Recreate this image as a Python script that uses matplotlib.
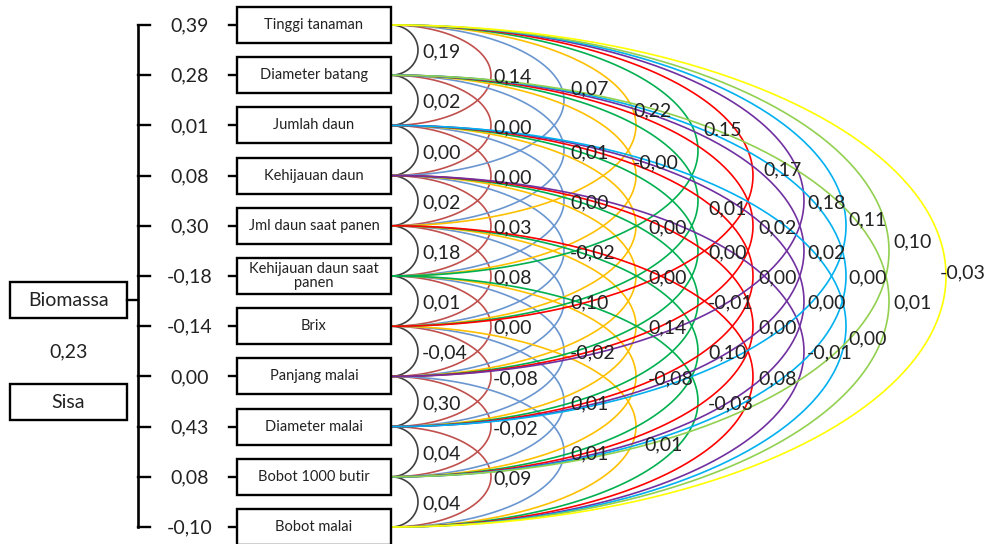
import numpy as np
import matplotlib.pyplot as plt
from matplotlib.patches import Rectangle

plt.rcParams['font.family'] = ['Lato', 'DejaVu Sans']

# Variables (top to bottom) and their direct effects on Biomassa
variables = ["Tinggi tanaman", "Diameter batang", "Jumlah daun", "Kehijauan daun",
             "Jml daun saat panen", "Kehijauan daun saat\npanen", "Brix", "Panjang malai",
             "Diameter malai", "Bobot 1000 butir", "Bobot malai"]
direct_effects = ["0,39", "0,28", "0,01", "0,08", "0,30", "-0,18", "-0,14", "0,00",
                  "0,43", "0,08", "-0,10"]
dependent = "Biomassa"
residual_name = "Sisa"
residual_value = "0,23"

# Correlations between variables, grouped by distance between rows (1..10)
corr_span1 = ["0,19", "0,02", "0,00", "0,02", "0,18", "0,01", "-0,04", "0,30", "0,04", "0,04"]
corr_span2 = ["0,14", "0,00", "0,00", "0,03", "0,08", "0,00", "-0,08", "-0,02", "0,09"]
corr_span3 = ["0,07", "0,01", "0,00", "-0,02", "0,10", "-0,02", "0,01", "0,01"]
corr_span4 = ["0,22", "-0,00", "0,00", "0,00", "0,14", "-0,08", "0,01"]
corr_span5 = ["0.15", "0,01", "0,00", "-0,01", "0,10", "-0,03"]
corr_span6 = ["0,17", "0,02", "0,00", "0,00", "0,08"]
corr_span7 = ["0,18", "0,02", "0,00", "-0,01"]
corr_span8 = ["0,11", "0,00", "0,00"]
corr_span9 = ["0,10", "0,01"]
corr_span10 = ["-0,03"]
corr_spans = [corr_span1, corr_span2, corr_span3, corr_span4, corr_span5,
              corr_span6, corr_span7, corr_span8, corr_span9, corr_span10]

# styling / layout
span_colors = ["#404040", "#C0504D", "#6A96D0", "#FFC000", "#00B050",
               "#FF0000", "#7030A0", "#00B0F0", "#92D050", "#FFFF00"]
span_reach = [27, 100, 173, 245, 307, 362, 413, 455, 498, 555]
label_dx = [4, 2, 6, 12, 10, 5, 3, 2, 4, -6]
label_nudge = {(3, 0): (0, -13), (4, 0): (-15, -17), (4, 1): (-15, -15), (4, 6): (-4, 16),
               (5, 0): (-5, -22), (5, 1): (0, 6), (6, 0): (5, -8), (8, 0): (0, -8),
               (8, 2): (0, 11), (9, 0): (0, -11), (10, 0): (0, -5)}
text_color = '#222222'

row0, row_step = 25, 50.2
box_l, box_r, box_h = 237, 391, 36

fig = plt.figure(figsize=(9.87, 5.44), dpi=100)
ax = fig.add_axes([0, 0, 1, 1])
ax.set_xlim(0, 987)
ax.set_ylim(544, 0)
ax.axis('off')

rows = row0 + row_step * np.arange(len(variables))

# arcs between the variable boxes
t = np.linspace(-np.pi / 2, np.pi / 2, 200)
for k, labels in enumerate(corr_spans):
    span = k + 1
    a = span_reach[k]
    for i, txt in enumerate(labels):
        y1, y2 = rows[i], rows[i + span]
        yc, b = (y1 + y2) / 2, (y2 - y1) / 2
        ax.plot(box_r + a * np.cos(t), yc + b * np.sin(t), color=span_colors[k],
                lw=1.2, zorder=2 + k * 0.1)
        dx, dy = label_nudge.get((span, i), (0, 0))
        ax.text(box_r + a + label_dx[k] + dx, yc + 2 + dy, txt, ha='left', va='center',
                fontsize=14, color=text_color, zorder=5)

# variable boxes, direct effects and bracket
for y, name, val in zip(rows, variables, direct_effects):
    ax.add_patch(Rectangle((box_l, y - box_h / 2), box_r - box_l, box_h, fill=True,
                           facecolor='white', edgecolor='black', lw=1.7, zorder=4))
    ax.text((box_l + box_r) / 2, y, name, ha='center', va='center', fontsize=10.5,
            linespacing=0.95, color=text_color, zorder=5)
    ax.plot([229, box_l], [y, y], color='black', lw=1.7)
    ax.plot([138, 150], [y, y], color='black', lw=1.7)
    ax.text(190, y + 1, val, ha='center', va='center', fontsize=14, color=text_color)

ax.plot([138, 138], [rows[0], rows[-1]], color='black', lw=1.9)

# dependent and residual
dep_y = 300
ax.add_patch(Rectangle((10, dep_y - 18), 117, 36, fill=False, edgecolor='black', lw=1.7))
ax.text(68.5, dep_y, dependent, ha='center', va='center', fontsize=14, color=text_color)
ax.plot([127, 138], [dep_y, dep_y], color='black', lw=1.7)
ax.text(68.5, 352, residual_value, ha='center', va='center', fontsize=14, color=text_color)
ax.add_patch(Rectangle((10, 384), 117, 36, fill=False, edgecolor='black', lw=1.7))
ax.text(68.5, 402, residual_name, ha='center', va='center', fontsize=14, color=text_color)

fig.savefig("out.png", dpi=100)
